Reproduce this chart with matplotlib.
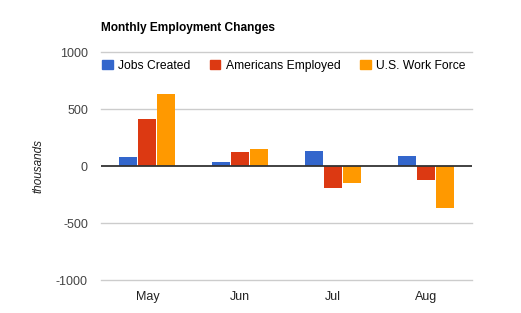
import numpy as np
import matplotlib.pyplot as plt
from matplotlib.patches import Patch

plt.rcParams['font.family'] = ['Liberation Sans', 'DejaVu Sans']

months = ['May', 'Jun', 'Jul', 'Aug']
series = ['Jobs Created', 'Americans Employed', 'U.S. Work Force']
jobs_created = [82, 38, 131, 88]
americans_employed = [415, 125, -190, -123]
work_force = [634, 152, -146, -365]
colors = ['#3366cc', '#dc3912', '#ff9900']
yticks = [-1000, -500, 0, 500, 1000]

fig = plt.figure(figsize=(5.21, 3.13), dpi=100)
ax = fig.add_axes([0.1939, 0.1045, 0.7121, 0.7284])

x = np.arange(len(months))
w = 0.194
for i, (vals, c) in enumerate(zip([jobs_created, americans_employed, work_force], colors)):
    ax.bar(x + (i - 1) * (w + 0.011), vals, width=w, color=c, zorder=3)

ax.set_xlim(-0.5, 3.5)
ax.set_ylim(-1000, 1000)
ax.set_yticks(yticks)
ax.set_yticklabels([str(t) for t in yticks])
ax.set_xticks(x)
ax.set_xticklabels(months)
ax.tick_params(axis='both', length=0, labelsize=9, colors='#222222')
ax.tick_params(axis='y', pad=9.4, colors='#444444')
ax.tick_params(axis='x', pad=8)
for s in ax.spines.values():
    s.set_visible(False)
for t in [-1000, -500, 500, 1000]:
    ax.axhline(t, color='#cccccc', lw=1, zorder=1, clip_on=False)
ax.axhline(0, color='#333333', lw=1.3, zorder=4)

ax.set_ylabel('thousands', fontstyle='italic', fontsize=8.5, labelpad=8, color='#222222')

fig.text(0.1939, 0.91, 'Monthly Employment Changes', fontsize=8.6, fontweight='bold', va='center')

handles = [Patch(color=c) for c in colors]
fig.legend(handles, series, loc='center left', bbox_to_anchor=(0.187, 0.79), ncol=3,
           frameon=False, fontsize=8.75, handlelength=0.85, handleheight=0.85,
           handletextpad=0.45, columnspacing=1.62, borderaxespad=0)

fig.savefig('out.png', dpi=100)
